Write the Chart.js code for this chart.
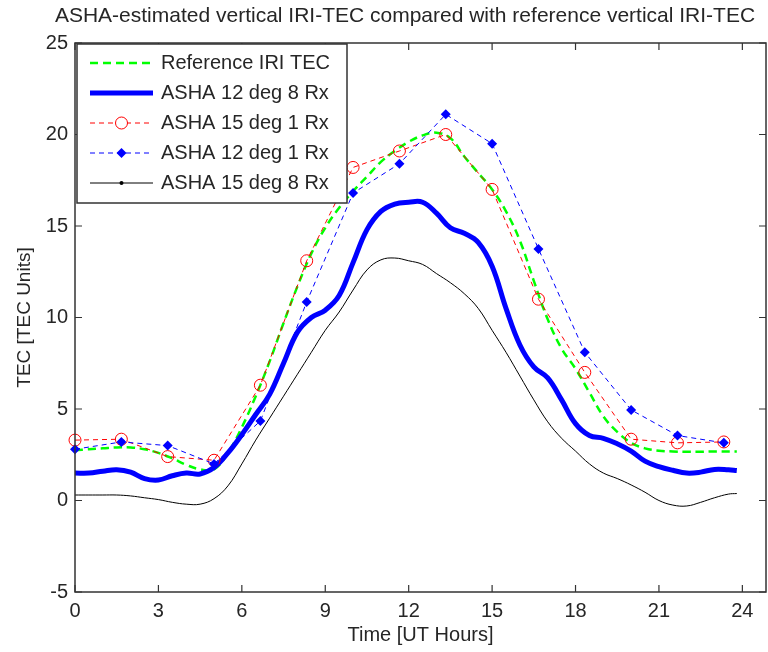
<!DOCTYPE html>
<html>
<head>
<meta charset="utf-8">
<script src="https://cdn.jsdelivr.net/npm/chart.js@4.4.1/dist/chart.umd.min.js"></script>
<style>
  html, body { margin: 0; padding: 0; background: #fff; }
</style>
</head>
<body>
<canvas id="grafico" width="768" height="652"></canvas>
<script>
const canvas = document.querySelector('#grafico');

// horas de las curvas continuas
const horasFinas = [0, 0.5, 1, 1.5, 2, 2.5, 3, 3.5, 4, 4.5, 5, 5.5, 6, 6.5, 7, 7.5, 8, 8.5, 9, 9.5,
  10, 10.5, 11, 11.5, 12, 12.5, 13, 13.5, 14, 14.5, 15, 15.5, 16, 16.5, 17, 17.5, 18, 18.5, 19, 19.5,
  20, 20.5, 21, 21.5, 22, 22.5, 23, 23.5, 23.8];
const refIri = [2.75, 2.8, 2.85, 2.9, 2.9, 2.8, 2.6, 2.3, 1.95, 1.7, 1.7, 2.6, 4.0, 5.7, 7.6, 9.7, 11.7, 13.5, 14.9, 16.0,
  16.9, 17.7, 18.5, 19.1, 19.6, 19.95, 20.1, 19.8, 18.8, 17.9, 17.0, 15.8, 14.2, 12.0, 9.9, 8.3, 7.2, 5.9, 4.6, 3.75,
  3.15, 2.85, 2.72, 2.68, 2.66, 2.66, 2.68, 2.68, 2.68];
const asha12x8 = [1.5, 1.5, 1.6, 1.68, 1.55, 1.2, 1.12, 1.35, 1.5, 1.45, 1.8, 2.6, 3.6, 4.7, 5.8, 7.5, 9.2, 10.0, 10.4, 11.2,
  13.0, 14.8, 15.8, 16.2, 16.3, 16.3, 15.7, 14.9, 14.6, 14.1, 12.8, 10.5, 8.5, 7.3, 6.7, 5.5, 4.2, 3.55, 3.4, 3.1,
  2.7, 2.15, 1.85, 1.65, 1.5, 1.55, 1.7, 1.68, 1.64];
const asha15x8 = [0.3, 0.3, 0.3, 0.3, 0.25, 0.15, 0.05, -0.1, -0.2, -0.2, 0.1, 0.8, 2.0, 3.3, 4.5, 5.7, 6.9, 8.1, 9.3, 10.3,
  11.5, 12.6, 13.15, 13.25, 13.1, 12.9, 12.4, 11.9, 11.3, 10.5, 9.3, 8.1, 6.8, 5.5, 4.3, 3.4, 2.7, 2.0, 1.5, 1.2,
  0.85, 0.45, 0.0, -0.25, -0.3, -0.1, 0.15, 0.35, 0.38];

// horas de los puntos con marcador
const horasMarcas = [0, 1.667, 3.333, 5, 6.667, 8.333, 10, 11.667, 13.333, 15, 16.667, 18.333, 20, 21.667, 23.333];
const asha15x1 = [3.3, 3.35, 2.4, 2.2, 6.3, 13.1, 18.2, 19.1, 20.0, 17.0, 11.0, 7.0, 3.35, 3.15, 3.2];
const asha12x1 = [2.8, 3.2, 3.0, 2.0, 4.35, 10.85, 16.8, 18.4, 21.1, 19.5, 13.75, 8.1, 4.95, 3.55, 3.15];

const xTicks = [0, 3, 6, 9, 12, 15, 18, 21, 24];
const yTicks = [-5, 0, 5, 10, 15, 20, 25];

const titulo = 'ASHA-estimated vertical IRI-TEC compared with reference vertical IRI-TEC';
const fuente = "'Liberation Sans', Arial, Helvetica, sans-serif";
const gris = '#262626';

const puntos = (xs, ys) => xs.map((x, i) => ({ x: x, y: ys[i] }));

const datasets = [
  {
    label: 'Reference IRI TEC',
    data: puntos(horasFinas, refIri),
    borderColor: '#00ff00', borderWidth: 2.5, borderDash: [8, 5],
    pointRadius: 0, tension: 0.4, order: 5
  },
  {
    label: 'ASHA 12 deg 8 Rx',
    data: puntos(horasFinas, asha12x8),
    borderColor: '#0000ff', borderWidth: 5,
    pointRadius: 0, tension: 0.4, order: 4
  },
  {
    label: 'ASHA 15 deg 1 Rx',
    data: puntos(horasMarcas, asha15x1),
    borderColor: '#ff0000', borderWidth: 1, borderDash: [5, 4],
    pointStyle: 'circle', pointRadius: 6, pointBorderColor: '#ff0000', pointBackgroundColor: 'rgba(0,0,0,0)',
    pointBorderWidth: 1, tension: 0, order: 3, clip: 8
  },
  {
    label: 'ASHA 12 deg 1 Rx',
    data: puntos(horasMarcas, asha12x1),
    borderColor: '#0000ff', borderWidth: 1, borderDash: [5, 4],
    pointStyle: 'rectRot', pointRadius: 5, pointBorderColor: '#0000ff', pointBackgroundColor: '#0000ff',
    pointBorderWidth: 0, tension: 0, order: 2, clip: 8
  },
  {
    label: 'ASHA 15 deg 8 Rx',
    data: puntos(horasFinas, asha15x8),
    borderColor: '#000000', borderWidth: 1,
    pointRadius: 0, tension: 0.4, order: 1
  }
];

// titulo, marco, marcas de eje hacia dentro y leyenda estilo MATLAB
const marcoPlugin = {
  id: 'marco',
  afterDatasetsDraw(chart) {
    const ctx = chart.ctx;
    const a = chart.chartArea;
    const x = chart.scales.x;
    const y = chart.scales.y;
    ctx.save();

    ctx.fillStyle = gris;
    ctx.font = '21px ' + fuente;
    ctx.textAlign = 'center';
    ctx.textBaseline = 'middle';
    ctx.fillText(titulo, 405, 16);

    ctx.strokeStyle = '#333';
    ctx.lineWidth = 1.5;
    ctx.setLineDash([]);
    ctx.strokeRect(a.left, a.top, a.right - a.left, a.bottom - a.top);
    ctx.lineWidth = 1.2;
    ctx.beginPath();
    xTicks.forEach(v => {
      const px = x.getPixelForValue(v);
      ctx.moveTo(px, a.bottom); ctx.lineTo(px, a.bottom - 7);
      ctx.moveTo(px, a.top); ctx.lineTo(px, a.top + 7);
    });
    yTicks.forEach(v => {
      const py = y.getPixelForValue(v);
      ctx.moveTo(a.left, py); ctx.lineTo(a.left + 7, py);
      ctx.moveTo(a.right, py); ctx.lineTo(a.right - 7, py);
    });
    ctx.stroke();

    // leyenda
    const lx = a.left + 2, ly = a.top + 1, lw = 270, lh = 159;
    ctx.fillStyle = '#fff';
    ctx.fillRect(lx, ly, lw, lh);
    ctx.strokeStyle = '#333';
    ctx.lineWidth = 1.5;
    ctx.strokeRect(lx, ly, lw, lh);
    ctx.font = '20px ' + fuente;
    ctx.textBaseline = 'middle';
    ctx.textAlign = 'left';
    datasets.forEach((ds, i) => {
      const cy = ly + 19 + i * 30;
      const x0 = lx + 13, x1 = lx + 76, xm = (x0 + x1) / 2;
      ctx.strokeStyle = ds.borderColor;
      ctx.lineWidth = ds.borderWidth;
      ctx.setLineDash(ds.borderDash || []);
      ctx.beginPath(); ctx.moveTo(x0, cy); ctx.lineTo(x1, cy); ctx.stroke();
      ctx.setLineDash([]);
      if (ds.pointStyle === 'circle') {
        ctx.strokeStyle = ds.pointBorderColor; ctx.lineWidth = 1;
        ctx.fillStyle = '#fff';
        ctx.beginPath(); ctx.arc(xm, cy, 6, 0, Math.PI * 2); ctx.fill(); ctx.stroke();
      } else if (ds.pointStyle === 'rectRot') {
        ctx.fillStyle = ds.pointBackgroundColor;
        ctx.beginPath();
        ctx.moveTo(xm, cy - 5); ctx.lineTo(xm + 5, cy); ctx.lineTo(xm, cy + 5); ctx.lineTo(xm - 5, cy);
        ctx.closePath(); ctx.fill();
      } else if (i === 4) {
        ctx.fillStyle = '#000';
        ctx.beginPath(); ctx.arc(xm, cy, 2, 0, Math.PI * 2); ctx.fill();
      }
      ctx.fillStyle = gris;
      ctx.fillText(ds.label, lx + 84, cy);
    });
    ctx.restore();
  }
};

const sinRelleno = s => { s.paddingLeft = 0; s.paddingRight = 0; s.paddingTop = 0; s.paddingBottom = 0; };

const config = {
  type: 'line',
  data: { datasets: datasets },
  options: {
    responsive: false,
    animation: false,
    layout: { autoPadding: false, padding: { left: 0, right: 2, top: 43, bottom: 0 } },
    plugins: {
      legend: { display: false },
      tooltip: { enabled: false },
      title: { display: false }
    },
    scales: {
      x: {
        type: 'linear', min: 0, max: 24.85,
        afterBuildTicks: s => { s.ticks = xTicks.map(v => ({ value: v })); },
        afterFit: s => { s.height = 60; sinRelleno(s); },
        grid: { display: false, drawTicks: false },
        border: { display: false },
        ticks: { font: { family: fuente, size: 20 }, color: gris, padding: 7, maxRotation: 0 },
        title: { display: true, text: 'Time [UT Hours]', font: { family: fuente, size: 20 }, color: gris, padding: { top: 0, bottom: 5 } }
      },
      y: {
        type: 'linear', min: -5, max: 25,
        afterBuildTicks: s => { s.ticks = yTicks.map(v => ({ value: v })); },
        afterFit: s => { s.width = 75; sinRelleno(s); },
        grid: { display: false, drawTicks: false },
        border: { display: false },
        ticks: { font: { family: fuente, size: 20 }, color: gris, padding: 7 },
        title: { display: true, text: 'TEC [TEC Units]', font: { family: fuente, size: 19 }, color: gris, padding: { top: 13, bottom: 0 } }
      }
    }
  },
  plugins: [marcoPlugin]
};

new Chart(canvas, config);
</script>
</body>
</html>
